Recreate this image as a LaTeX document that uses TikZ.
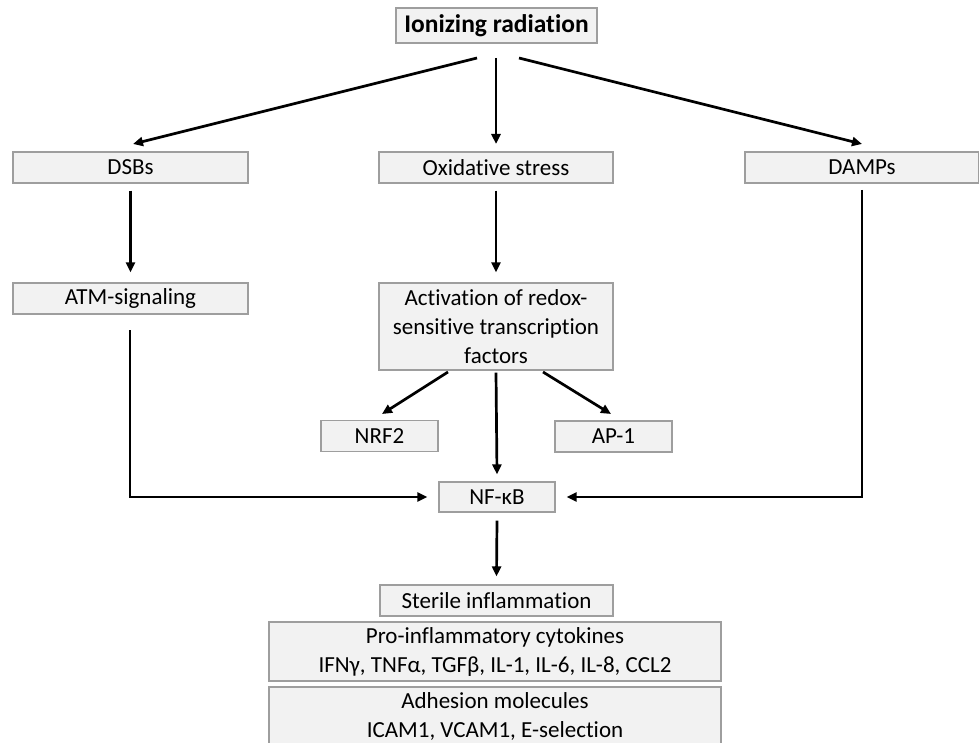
\documentclass[tikz,border=0pt]{standalone}
\usepackage{fontspec}
\setmainfont[RawFeature={-liga;-clig;-dlig;-calt}]{Carlito}
\usetikzlibrary{arrows.meta}
\begin{document}
\begin{tikzpicture}[x=1pt,y=-1pt,
  box/.style={draw=black!38,fill=black!5,line width=1.2pt,rectangle,inner sep=0pt,align=center,
    font=\fontsize{23}{29}\selectfont,text=black},
  arr/.style={line width=2.7pt,-{Triangle[length=10pt,width=9pt]}}]
\useasboundingbox (0,0) rectangle (979,743);
\begin{scope}
\clip (0,0) rectangle (979,743);
\node[box,minimum width=201pt,minimum height=35pt,font=\fontsize{25.5}{30}\selectfont\bfseries] (ir) at (496.5,25.5) {Ionizing radiation};
\node[box,minimum width=235pt,minimum height=31pt] (dsb) at (130.5,167.5) {DSBs};
\node[box,minimum width=234pt,minimum height=31pt] (ox) at (496,167.5) {Oxidative stress};
\node[box,minimum width=234pt,minimum height=31pt] (damp) at (862,167.5) {DAMPs};
\node[box,minimum width=235pt,minimum height=31pt] (atm) at (130.5,298.5) {ATM-signaling};
\node[box,minimum width=234pt,minimum height=87pt] (act) at (496,326.5) {Activation of redox-\\sensitive transcription\\factors};
\node[box,minimum width=117pt,minimum height=31pt] (nrf) at (379.5,436) {NRF2};
\node[box,minimum width=117pt,minimum height=31pt] (ap) at (613.5,436.5) {AP-1};
\node[box,minimum width=116pt,minimum height=30pt] (nf) at (497,497) {NF-κB};
\node[box,minimum width=233pt,minimum height=31pt] (st) at (496.5,600.5) {Sterile inflammation};
\node[box,minimum width=452pt,minimum height=59pt] (pro) at (495,651.5) {Pro-inflammatory cytokines\\IFNγ, TNFα, TGFβ, IL-1, IL-6, IL-8, CCL2};
\node[box,minimum width=452pt,minimum height=59pt] (adh) at (495,716.5) {Adhesion molecules\\ICAM1, VCAM1, E-selection};
\end{scope}
% connector end points
\coordinate (irL) at (477,58);
\coordinate (irC) at (496,58);
\coordinate (irR) at (519,58);
\coordinate (dsbT) at (133,144);
\coordinate (oxT) at (496,144);
\coordinate (dampT) at (862,144);
\draw[arr] (irL) -- (dsbT);
\draw[arr] (irC) -- (oxT);
\draw[arr] (irR) -- (dampT);
\draw[arr] ([yshift=-7pt]dsb.south) -- ([yshift=10pt]atm.north);
\draw[arr] ([yshift=-7pt]ox.south) -- ([yshift=10pt]act.north);
\coordinate (actL) at (448,372);
\coordinate (actR) at (543,372);
\coordinate (nrfT) at (382,414);
\coordinate (apT) at (611,414);
\draw[arr] (actL) -- (nrfT);
\draw[arr] (actR) -- (apT);
\draw[arr] ([yshift=-2pt]act.south) -- ([yshift=7pt]nf.north);
\coordinate (atmB) at (130,330);
\coordinate (atmC) at (130,497);
\draw[arr] (atmB) -- (atmC) -- ([xshift=-11pt]nf.west);
\coordinate (dampB) at (862,190);
\coordinate (dampC) at (862,497);
\draw[arr] (dampB) -- (dampC) -- ([xshift=11pt]nf.east);
\draw[arr] ([yshift=-8pt]nf.south) -- ([yshift=8pt]st.north);
\end{tikzpicture}
\end{document}
